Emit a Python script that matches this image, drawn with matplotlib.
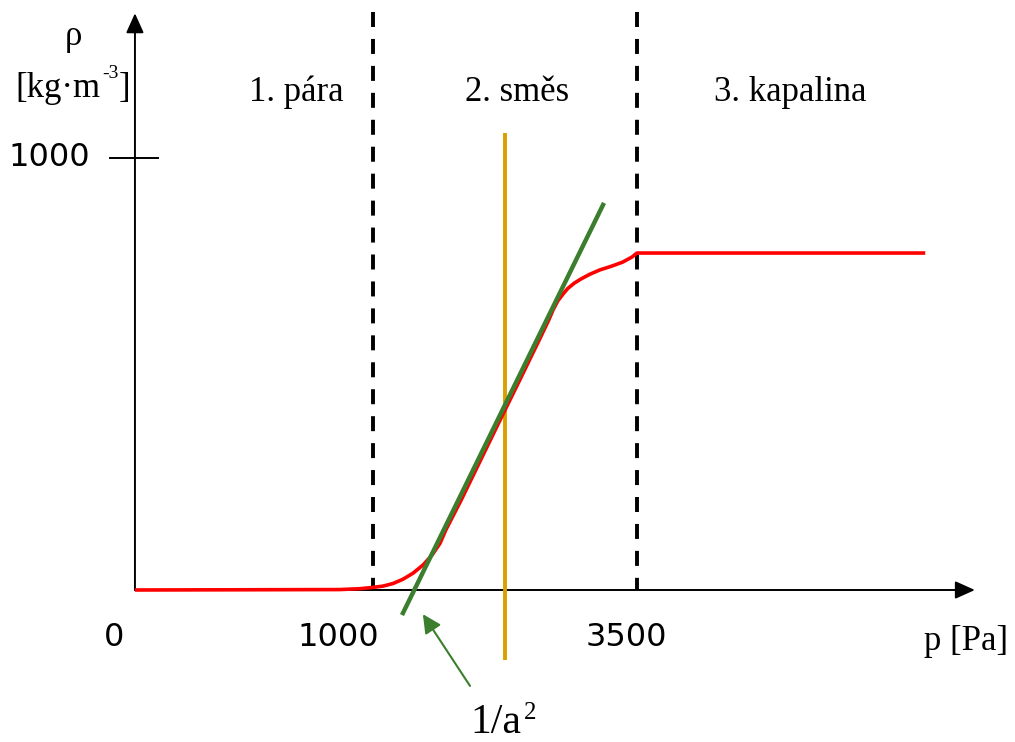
import numpy as np
import matplotlib
matplotlib.use("Agg")
import matplotlib.pyplot as plt

# phase boundaries [Pa]
p_vapour = 1000
p_liquid = 3500

# density of the medium along the pressure axis
pressure = [0, 860, 945, 1000, 1095, 1190, 1285, 1380, 1475, 1560,
            1635, 1690, 1835, 2020, 2205, 2390, 2575, 2665, 2705, 2750,
            2800, 2845, 2905, 2970, 3055, 3150, 3265, 3365, 3455, 3500,
            6230]
density = [0, 1, 3, 6, 9, 15, 25, 39, 58, 81,
           108, 139, 208, 301, 394, 486, 579, 625, 648, 669,
           685, 698, 710, 720, 731, 741, 750, 759, 771, 780,
           780]

# tangent at the inflection point, slope 1/a^2
tangent_p = [1275, 3188]
tangent_rho = [-58, 896]

# vertical marker through the inflection point
inflection_p = 2250
inflection_rho = [-162, 1058]

rho_tick = 1000
x_tick_labels = ["0", "1000", "3500"]
phase_labels = ["1. pára", "2. směs", "3. kapalina"]

# schematic pressure axis: vapour range drawn wider than the rest
K_LOW, K_HIGH = 0.238, 0.1056


def forward(p):
    p = np.asarray(p, dtype=float)
    return np.where(p <= p_vapour, p * K_LOW,
                    p_vapour * K_LOW + (p - p_vapour) * K_HIGH)


def inverse(u):
    u = np.asarray(u, dtype=float)
    return np.where(u <= p_vapour * K_LOW, u / K_LOW,
                    p_vapour + (u - p_vapour * K_LOW) / K_HIGH)


W, H = 1015, 742
fig = plt.figure(figsize=(W / 100, H / 100), dpi=100)
ax = fig.add_axes([0, 0, 1, 1])
ax.set_xscale("function", functions=(forward, inverse))
ax.set_xlim(-567, 7080)
ax.set_ylim(-351.85, 1365.7)
ax.axis("off")

SERIF = "Liberation Serif"
SANS = "DejaVu Sans"
RED = "#ff0000"
GREEN = "#3b7f2e"
GOLD = "#d9a000"
plt.rcParams["lines.scale_dashes"] = False


def at(x, y):
    return (x / W, 1 - y / H)


# coordinate axes with arrow heads
arrow_kw = dict(arrowstyle="-|>,head_length=0.6,head_width=0.27",
                color="black", lw=1.4, shrinkA=0, shrinkB=0,
                mutation_scale=20)
ax.annotate("", xy=(0, 1335), xytext=(0, 0), arrowprops=arrow_kw, zorder=2)
ax.annotate("", xy=(6700, 0), xytext=(0, 0), arrowprops=arrow_kw, zorder=2)

# tick for rho = 1000
ax.plot([-105, 97], [rho_tick, rho_tick], color="black", lw=1.4, zorder=2)

# phase boundaries
for pb in (p_vapour, p_liquid):
    ax.plot([pb, pb], [1338, 0], color="black", lw=2.8,
            dashes=(10.8, 8.6), solid_capstyle="butt", zorder=3)

# inflection marker, density curve and tangent
ax.plot([inflection_p, inflection_p], inflection_rho, color=GOLD, lw=2.8,
        solid_capstyle="butt", zorder=4)
ax.plot(pressure, density, color=RED, lw=2.6, solid_joinstyle="round",
        solid_capstyle="butt", zorder=5)
ax.plot(tangent_p, tangent_rho, color=GREEN, lw=3.2, solid_capstyle="butt",
        zorder=6)

# pointer to the tangent
ax.annotate("", xy=(1473, -56), xytext=(1919, -222),
            arrowprops=dict(arrowstyle="-|>,head_length=0.7,head_width=0.35",
                            color=GREEN, lw=1.5, shrinkA=0, shrinkB=0,
                            mutation_scale=16), zorder=6)

# phase names
for label, xc in zip(phase_labels, (296, 517, 790)):
    fig.text(*at(xc, 101), label, family=SERIF, fontsize=25,
             ha="center", va="baseline")

# axis quantities
fig.text(*at(73, 45), "ρ", family=SERIF, fontsize=25, ha="center",
         va="baseline")
fig.text(*at(15, 97), "[kg·m", family=SERIF, fontsize=25,
         ha="left", va="baseline")
fig.text(*at(102, 78), "-3", family=SERIF, fontsize=14,
         ha="left", va="baseline")
fig.text(*at(119, 97), "]", family=SERIF, fontsize=25,
         ha="left", va="baseline")
fig.text(*at(966, 650), "p [Pa]", family=SERIF, fontsize=25,
         ha="center", va="baseline")

# numeric tick labels
fig.text(*at(49, 158), "1000", family=SANS, fontsize=23,
         ha="center", va="center")
for label, xc in zip(x_tick_labels, (114, 338, 626)):
    fig.text(*at(xc, 638), label, family=SANS, fontsize=23,
             ha="center", va="center")

# slope label 1/a^2
fig.text(*at(470, 733), "1/a", family=SERIF, fontsize=30,
         ha="left", va="baseline")
fig.text(*at(524, 719), "2", family=SERIF, fontsize=18,
         ha="left", va="baseline")

fig.savefig("out.png", dpi=100)
